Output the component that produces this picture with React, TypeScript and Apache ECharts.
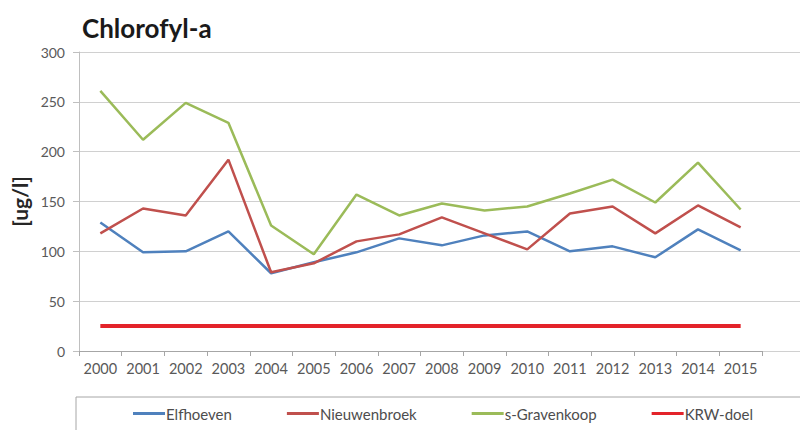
import React, { useEffect, useRef } from "react";
import * as echarts from "echarts";

const years = ["2000","2001","2002","2003","2004","2005","2006","2007","2008","2009","2010","2011","2012","2013","2014","2015"];
const elfhoeven = [129, 99, 100, 120, 78, 89, 99, 113, 106, 116, 120, 100, 105, 94, 122, 101];
const nieuwenbroek = [118, 143, 136, 192, 79, 88, 110, 117, 134, 118, 102, 138, 145, 118, 146, 124];
const sGravenkoop = [261, 212, 249, 229, 126, 97, 157, 136, 148, 141, 145, 158, 172, 149, 189, 142];
const krwDoel = [25, 25, 25, 25, 25, 25, 25, 25, 25, 25, 25, 25, 25, 25, 25, 25];
const yTicks = { min: 0, max: 300, interval: 50 };

const FONT = "Lato";

export default function App() {
  const ref = useRef<HTMLDivElement>(null);
  useEffect(() => {
    if (!ref.current) return;
    const chart = echarts.init(ref.current, null, { renderer: "svg" });
    const mk = (name: string, data: number[], color: string, width: number) => ({
      name,
      type: "line",
      data,
      xAxisIndex: 0,
      yAxisIndex: 0,
      symbol: "none",
      lineStyle: { color, width },
      itemStyle: { color },
      z: 3,
    });
    chart.setOption({
      animation: false,
      backgroundColor: "#ffffff",
      title: {
        text: "Chlorofyl-a",
        left: 82,
        top: 15,
        padding: 0,
        textStyle: { fontFamily: FONT, fontWeight: "bold", fontSize: 26, color: "#1a1a1a" },
      },
      grid: [
        { left: 79, top: 52, width: 683, height: 299 },
        { left: 79, top: 52, right: 0, height: 299 },
      ],
      xAxis: [
        {
          type: "category",
          gridIndex: 0,
          data: years,
          boundaryGap: true,
          axisLine: { show: true, lineStyle: { color: "#a6a6a6", width: 1 } },
          axisTick: { show: true, length: 5, interval: 0, lineStyle: { color: "#a6a6a6" } },
          axisLabel: { fontFamily: FONT, fontSize: 14.5, color: "#595959", margin: 10, interval: 0, hideOverlap: false },
          splitLine: { show: false },
        },
        { type: "value", gridIndex: 1, show: false, min: 0, max: 1 },
      ],
      yAxis: [
        {
          type: "value",
          gridIndex: 0,
          min: yTicks.min,
          max: yTicks.max,
          interval: yTicks.interval,
          name: "[ug/l]",
          nameLocation: "middle",
          nameGap: 46,
          nameRotate: 90,
          nameTextStyle: { fontFamily: FONT, fontSize: 21, fontWeight: "bold", color: "#262626" },
          axisLine: { show: true, lineStyle: { color: "#bfbfbf", width: 1 } },
          axisTick: { show: true, length: 6, lineStyle: { color: "#bfbfbf" } },
          axisLabel: { fontFamily: FONT, fontSize: 14, color: "#595959", margin: 14 },
          splitLine: { show: false },
        },
        {
          type: "value",
          gridIndex: 1,
          min: yTicks.min,
          max: yTicks.max,
          interval: yTicks.interval,
          axisLine: { show: false },
          axisTick: { show: false },
          axisLabel: { show: false },
          splitLine: { show: true, lineStyle: { color: "#d0d0d0", width: 1 } },
        },
      ],
      legend: {
        left: 133,
        top: 406,
        itemGap: 55,
        itemWidth: 32,
        itemHeight: 3,
        icon: "rect",
        padding: 0,
        textStyle: { fontFamily: FONT, fontSize: 15, color: "#4d4d4d", padding: [0, 0, 0, -4] },
        data: ["Elfhoeven", "Nieuwenbroek", "s-Gravenkoop", "KRW-doel"],
      },
      graphic: [
        {
          type: "rect",
          shape: { x: 76, y: 397, width: 760, height: 60 },
          style: { fill: "none", stroke: "#a6a6a6", lineWidth: 1 },
          silent: true,
        },
      ],
      series: [
        mk("Elfhoeven", elfhoeven, "#4f81bd", 2.5),
        mk("Nieuwenbroek", nieuwenbroek, "#c0504d", 2.5),
        mk("s-Gravenkoop", sGravenkoop, "#9bbb59", 2.5),
        mk("KRW-doel", krwDoel, "#e3232a", 4),
      ],
    });
    return () => chart.dispose();
  }, []);
  return <div ref={ref} style={{ width: 800, height: 430, position: "absolute", left: 0, top: 0 }} />;
}
